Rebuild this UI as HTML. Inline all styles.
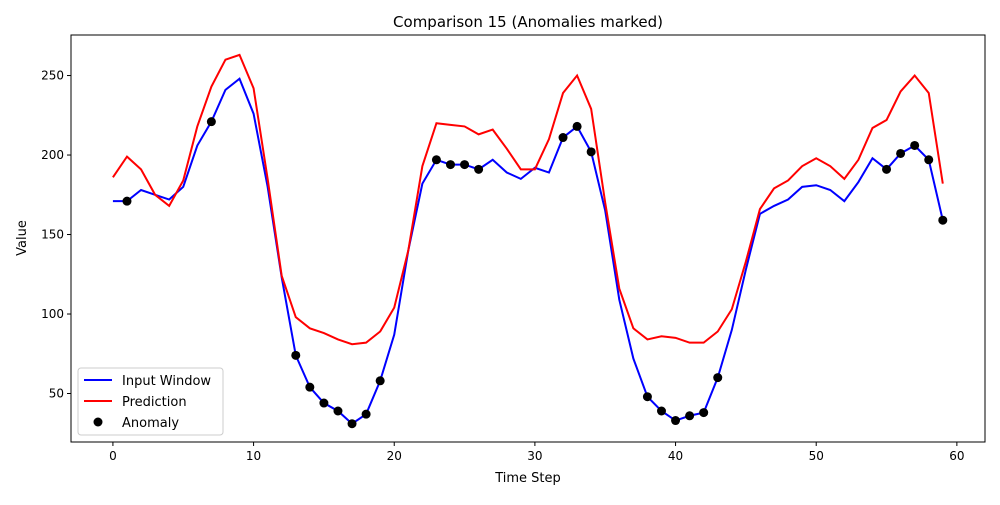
<!DOCTYPE html>
<html><head><meta charset="utf-8"><style>
body{margin:0;background:#fff;}
svg text{font-family:"DejaVu Sans","Liberation Sans",sans-serif;fill:#000;}
</style></head><body>
<svg id="chart" width="1000" height="500" xmlns="http://www.w3.org/2000/svg">
<rect width="1000" height="500" fill="#fff"/>
<text x="528" y="27" font-size="15" text-anchor="middle">Comparison 15 (Anomalies marked)</text>
<g id="plot"></g>
<rect x="71" y="35" width="914" height="407" fill="none" stroke="#000" stroke-width="1"/>
<text x="528" y="482" font-size="13" text-anchor="middle">Time Step</text>
<text x="26" y="238" font-size="13" text-anchor="middle" transform="rotate(-90 26 238)">Value</text>
<g>
<rect x="78" y="368" width="145" height="67" fill="#fff" fill-opacity="0.8" stroke="#ccc" rx="3"/>
<line x1="84" y1="380" x2="112" y2="380" stroke="#0000ff" stroke-width="2"/>
<text x="122" y="385" font-size="13">Input Window</text>
<line x1="84" y1="401" x2="112" y2="401" stroke="#ff0000" stroke-width="2"/>
<text x="122" y="406" font-size="13">Prediction</text>
<circle cx="98" cy="422" r="4.5" fill="#000"/>
<text x="122" y="427" font-size="13">Anomaly</text>
</g>
</svg>
<script>
const inputValues=[171,171,178,175,172,180,206,221,241,248,226,180,123,74,54,44,39,31,37,58,87,140,182,197,194,194,191,197,189,185,192,189,211,218,202,165,109,72,48,39,33,36,38,60,90,128,163,168,172,180,181,178,171,183,198,191,201,206,197,159];
const predValues=[186,199,191,175,168,184,218,243,260,263,242,185,124,98,91,88,84,81,82,89,104,140,193,220,219,218,213,216,204,191,191,210,239,250,229,170,116,91,84,86,85,82,82,89,103,133,166,179,184,193,198,193,185,197,217,222,240,250,239,182];
const anomalyIdx=[1,7,13,14,15,16,17,18,19,23,24,25,26,32,33,34,38,39,40,41,42,43,55,56,57,58,59];
const xTicks=[0,10,20,30,40,50,60];
const yTicks=[50,100,150,200,250];
const NS="http://www.w3.org/2000/svg";
const X0=71,X1=985,Y0=442,Y1=35;
const xMin=-2.98,xMax=62.0,yMin=19.5,yMax=275.5;
const sx=v=>X0+(v-xMin)/(xMax-xMin)*(X1-X0);
const sy=v=>Y0-(v-yMin)/(yMax-yMin)*(Y0-Y1);
const g=document.getElementById('plot');
function mk(t,a){const e=document.createElementNS(NS,t);for(const k in a)e.setAttribute(k,a[k]);g.appendChild(e);return e;}
xTicks.forEach(t=>{
  const l=mk('line',{x1:sx(t),x2:sx(t),y1:Y0,y2:Y0+4,stroke:'#000'});
  
  
  const tx=mk('text',{x:sx(t),y:Y0+18,'font-size':12,'text-anchor':'middle'});tx.textContent=t;
  
  
});
yTicks.forEach(t=>{
  const l=mk('line',{x1:X0-4,x2:X0,y1:sy(t),y2:sy(t),stroke:'#000'});
  
  
  const tx=mk('text',{x:X0-7,y:sy(t)+4,'font-size':12,'text-anchor':'end'});tx.textContent=t;
  
  
});
const p1=mk('polyline',{points:inputValues.map((v,i)=>sx(i)+','+sy(v)).join(' '),fill:'none',stroke:'#0000ff','stroke-width':2});


const p2=mk('polyline',{points:predValues.map((v,i)=>sx(i)+','+sy(v)).join(' '),fill:'none',stroke:'#ff0000','stroke-width':2});


anomalyIdx.forEach(i=>{
  const c=mk('circle',{cx:sx(i),cy:sy(inputValues[i]),r:4.5,fill:'#000'});
  
  
});
</script>
</body></html>
